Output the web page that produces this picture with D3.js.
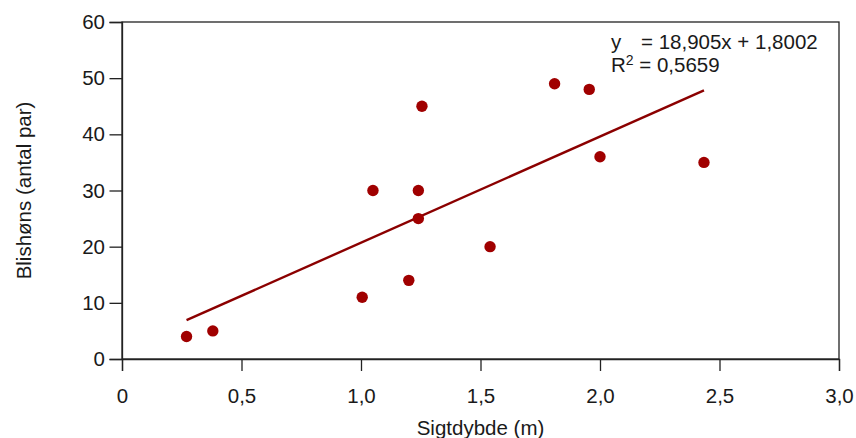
<!DOCTYPE html>
<html>
<head>
<meta charset="utf-8">
<script src="https://cdn.jsdelivr.net/npm/d3@7"></script>
<style>
  body { margin: 0; background: #fff; }
  svg { font-family: "Liberation Sans", Arial, sans-serif; }
</style>
</head>
<body>
<div id="chart"></div>
<script>
// sigtdybde (m) and number of coot pairs
const depth = [0.27, 0.38, 1.005, 1.2, 1.05, 1.24, 1.24, 1.255, 1.54, 1.81, 1.955, 2.0, 2.435];
const pairs = [4, 5, 11, 14, 30, 30, 25, 45, 20, 49, 48, 36, 35];
const xTicks = [0, 0.5, 1.0, 1.5, 2.0, 2.5, 3.0];
const yTicks = [0, 10, 20, 30, 40, 50, 60];
const slope = 18.905;
const intercept = 1.8002;

const width = 856, height = 438;
const margin = { left: 122, right: 17, top: 22, bottom: 79 };
const fontSize = '20.5px';

const svg = d3.select('#chart')
  .append('svg')
  .attr('width', width)
  .attr('height', height);

const x = d3.scaleLinear().domain([0, 3]).range([margin.left, width - margin.right]);
const y = d3.scaleLinear().domain([0, 60]).range([height - margin.bottom, margin.top]);

const fmt = d => d === 0 ? '0' : d3.format('.1f')(d).replace('.', ',');

// frame
svg.append('rect')
  .attr('x', x(0)).attr('y', y(60))
  .attr('width', x(3) - x(0)).attr('height', y(0) - y(60))
  .attr('fill', 'none').attr('stroke', '#222').attr('stroke-width', 1.3);

// axes
const xAxis = svg.append('g')
  .attr('transform', `translate(0,${y(0)})`)
  .call(d3.axisBottom(x).tickValues(xTicks).tickFormat(fmt).tickSize(12).tickPadding(17));
const yAxis = svg.append('g')
  .attr('transform', `translate(${x(0)},0)`)
  .call(d3.axisLeft(y).tickValues(yTicks).tickSize(12.5).tickPadding(4.5));

[xAxis, yAxis].forEach(g => {
  g.select('.domain').attr('stroke', '#222').attr('stroke-width', 1.3);
  g.selectAll('.tick line').attr('stroke', '#222').attr('stroke-width', 1.3);
  g.selectAll('.tick text')
    .attr('fill', '#1a1a1a')
    .style('font-size', fontSize)
    .style('font-family', '"Liberation Sans", Arial, sans-serif');
});

// trend line
const xMin = d3.min(depth), xMax = d3.max(depth);
svg.append('line')
  .attr('x1', x(xMin)).attr('y1', y(slope * xMin + intercept))
  .attr('x2', x(xMax)).attr('y2', y(slope * xMax + intercept))
  .attr('stroke', '#8b0000')
  .attr('stroke-width', 2.4);

// points
svg.selectAll('circle')
  .data(depth.map((d, i) => [d, pairs[i]]))
  .enter()
  .append('circle')
  .attr('cx', d => x(d[0]))
  .attr('cy', d => y(d[1]))
  .attr('r', 5.7)
  .attr('fill', '#a00000');

// equation
const eq = svg.append('g').attr('fill', '#1a1a1a').style('font-size', fontSize);
eq.append('text').attr('x', 611).attr('y', 49).text('y');
eq.append('text').attr('x', 641).attr('y', 49).text('= 18,905x + 1,8002');
const r2 = eq.append('text').attr('x', 611).attr('y', 72);
r2.append('tspan').text('R');
r2.append('tspan').attr('dy', -7).style('font-size', '14px').text('2');
r2.append('tspan').attr('dy', 7).text(' = 0,5659');

// axis titles
svg.append('text')
  .attr('x', (x(0) + x(3)) / 2)
  .attr('y', 435)
  .attr('text-anchor', 'middle')
  .attr('fill', '#1a1a1a')
  .style('font-size', fontSize)
  .text('Sigtdybde (m)');

svg.append('text')
  .attr('transform', `translate(31,${(y(0) + y(60)) / 2}) rotate(-90)`)
  .attr('text-anchor', 'middle')
  .attr('fill', '#1a1a1a')
  .style('font-size', fontSize)
  .text('Blishøns (antal par)');
</script>
</body>
</html>
